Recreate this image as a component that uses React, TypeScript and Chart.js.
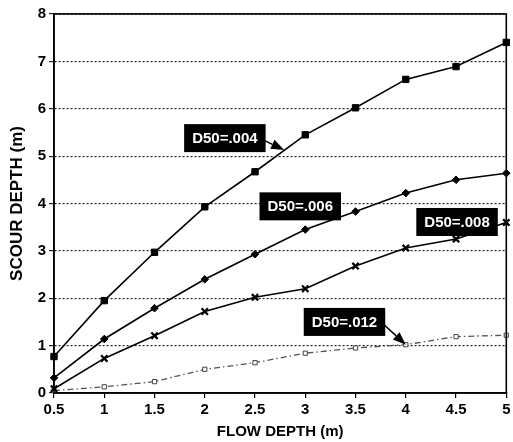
import React, { useEffect, useRef } from "react";
import { Chart, registerables } from "chart.js";

Chart.register(...registerables);

const flowDepth = [0.5, 1, 1.5, 2, 2.5, 3, 3.5, 4, 4.5, 5];
const scour004 = [0.77, 1.95, 2.97, 3.93, 4.67, 5.45, 6.02, 6.62, 6.89, 7.4];
const scour006 = [0.32, 1.14, 1.79, 2.4, 2.93, 3.45, 3.83, 4.22, 4.5, 4.64];
const scour008 = [0.09, 0.73, 1.21, 1.72, 2.02, 2.2, 2.68, 3.06, 3.25, 3.6];
const scour012 = [0.05, 0.13, 0.24, 0.5, 0.64, 0.84, 0.95, 1.02, 1.19, 1.22];

const labelTexts = ["D50=.004", "D50=.006", "D50=.008", "D50=.012"];
// label anchors in data space: [centerX, centerY, arrowTipX, arrowTipY]
const labelAnchors: (number | null)[][] = [
  [2.2, 5.38, 2.79, 5.13],
  [2.95, 3.94, null, null],
  [4.51, 3.61, null, null],
  [3.39, 1.5, 4.0, 1.02],
];

const FONT = "'Liberation Sans', Arial, sans-serif";

const framePlugin = {
  id: "frameAndLabels",
  afterDatasetsDraw(chart: any) {
    const { ctx, chartArea, scales } = chart;
    const xs = scales.x;
    const ys = scales.y;
    ctx.save();
    ctx.strokeStyle = "#000";
    ctx.lineWidth = 1.6;
    ctx.setLineDash([]);
    ctx.strokeRect(chartArea.left, chartArea.top, chartArea.right - chartArea.left, chartArea.bottom - chartArea.top);

    ctx.font = `bold 15px ${FONT}`;
    labelTexts.forEach((t, i) => {
      const [cx, cy, tx, ty] = labelAnchors[i];
      const px = xs.getPixelForValue(cx as number);
      const py = ys.getPixelForValue(cy as number);
      const w = ctx.measureText(t).width + 16;
      const h = 28;
      const left = px - w / 2;
      const top = py - h / 2;
      if (tx !== null && ty !== null) {
        const ax = xs.getPixelForValue(tx);
        const ay = ys.getPixelForValue(ty);
        const sx = left + w - 2;
        const sy = py + 2;
        const ang = Math.atan2(ay - sy, ax - sx);
        const hl = 13;
        const hw = 5;
        const bx = ax - hl * Math.cos(ang);
        const by = ay - hl * Math.sin(ang);
        ctx.strokeStyle = "#000";
        ctx.lineWidth = 1.5;
        ctx.beginPath();
        ctx.moveTo(sx, sy);
        ctx.lineTo(bx, by);
        ctx.stroke();
        ctx.fillStyle = "#000";
        ctx.beginPath();
        ctx.moveTo(ax, ay);
        ctx.lineTo(bx + hw * Math.sin(ang), by - hw * Math.cos(ang));
        ctx.lineTo(bx - hw * Math.sin(ang), by + hw * Math.cos(ang));
        ctx.closePath();
        ctx.fill();
      }
      ctx.fillStyle = "#000";
      ctx.fillRect(left, top, w, h);
      ctx.fillStyle = "#fff";
      ctx.textAlign = "center";
      ctx.textBaseline = "middle";
      ctx.fillText(t, px, py + 1);
    });
    ctx.restore();
  },
};

export default function App() {
  const canvasRef = useRef<HTMLCanvasElement | null>(null);

  useEffect(() => {
    document.body.style.margin = "0";
    const canvas = canvasRef.current;
    if (!canvas) return;
    const mk = (v: number[]) => v.map((y, i) => ({ x: flowDepth[i], y }));
    const chart = new Chart(canvas, {
      type: "line",
      data: {
        datasets: [
          {
            label: labelTexts[0],
            data: mk(scour004),
            borderColor: "#000",
            backgroundColor: "#000",
            borderWidth: 1.6,
            pointStyle: "rect",
            pointRadius: 4.5,
            pointBorderWidth: 1,
            clip: false as any,
          },
          {
            label: labelTexts[1],
            data: mk(scour006),
            borderColor: "#000",
            backgroundColor: "#000",
            borderWidth: 1.6,
            pointStyle: "rectRot",
            pointRadius: 3.8,
            pointBorderWidth: 1,
            clip: false as any,
          },
          {
            label: labelTexts[2],
            data: mk(scour008),
            borderColor: "#000",
            backgroundColor: "#000",
            borderWidth: 1.6,
            pointStyle: "crossRot",
            pointRadius: 4.5,
            pointBorderWidth: 2.2,
            clip: false as any,
          },
          {
            label: labelTexts[3],
            data: mk(scour012),
            borderColor: "#555",
            backgroundColor: "#fff",
            borderWidth: 1.3,
            borderDash: [6, 3, 1.5, 3],
            pointStyle: "rect",
            pointRadius: 3,
            pointBorderWidth: 1,
            pointBorderColor: "#444",
            clip: false as any,
          },
        ],
      },
      options: {
        animation: false,
        responsive: true,
        maintainAspectRatio: false,
        layout: { padding: { top: 14, right: 3, left: 0, bottom: 0 } },
        plugins: { legend: { display: false }, tooltip: { enabled: false } },
        scales: {
          x: {
            type: "linear",
            min: 0.5,
            max: 5,
            ticks: {
              stepSize: 0.5,
              color: "#000",
              padding: 3,
              maxRotation: 0,
              autoSkip: false,
              font: { family: FONT, size: 15, weight: "bold" },
              callback: (v: any) => String(Number(v)),
            },
            grid: { drawOnChartArea: false, drawTicks: true, tickLength: 5, color: "#000", lineWidth: 1.2 },
            border: { display: true, color: "#000", width: 1.6 },
            title: {
              display: true,
              text: "FLOW DEPTH (m)",
              color: "#000",
              font: { family: FONT, size: 15, weight: "bold" },
              padding: { top: 0, bottom: 1 },
            },
            afterFit: (s: any) => {
              s.height = 49;
              s.paddingLeft = 0;
              s.paddingRight = 0;
            },
          },
          y: {
            type: "linear",
            min: 0,
            max: 8,
            ticks: {
              stepSize: 1,
              color: "#000",
              padding: 3,
              font: { family: FONT, size: 15, weight: "bold" },
              callback: (v: any) => String(Number(v)),
            },
            grid: { drawOnChartArea: true, drawTicks: true, tickLength: 5, color: "#222", lineWidth: 1.2 },
            border: { display: true, color: "#000", width: 1.6, dash: [2, 2] },
            title: {
              display: true,
              text: "SCOUR DEPTH (m)",
              color: "#000",
              font: { family: FONT, size: 17, weight: "bold" },
              padding: { top: 7, bottom: 0 },
            },
            afterFit: (s: any) => {
              s.width = 54;
            },
          },
        },
      },
      plugins: [framePlugin],
    });
    return () => chart.destroy();
  }, []);

  return (
    <div style={{ width: 513, height: 442, position: "relative", background: "#fff" }}>
      <canvas ref={canvasRef} />
    </div>
  );
}
